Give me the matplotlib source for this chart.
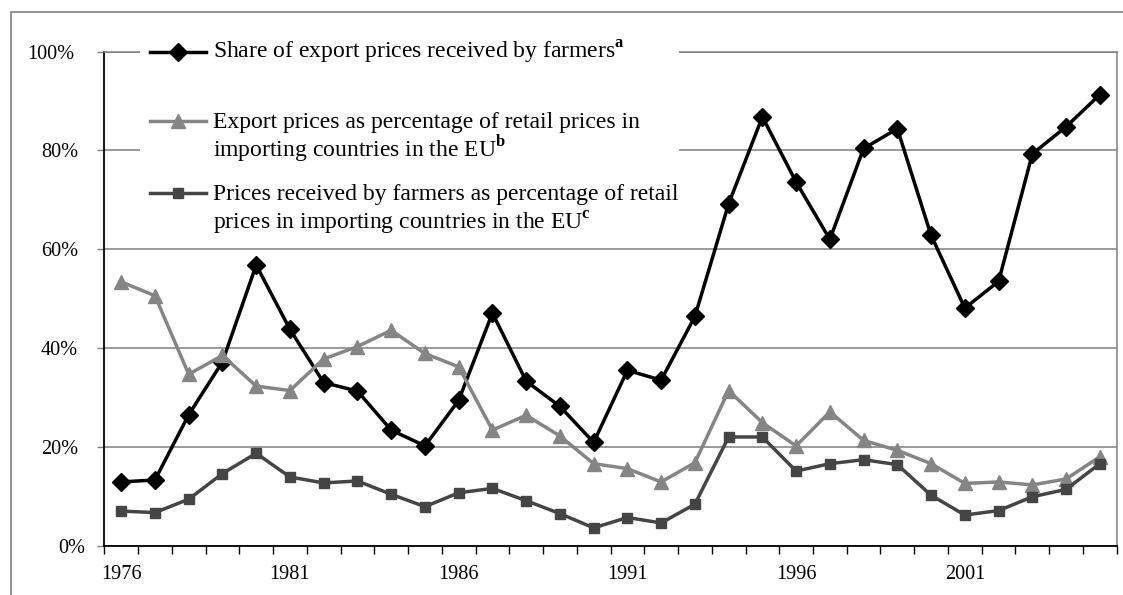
import matplotlib
matplotlib.use("Agg")
import numpy as np
import matplotlib.pyplot as plt
from matplotlib.patches import Rectangle
from matplotlib.lines import Line2D
from matplotlib.transforms import ScaledTranslation

plt.rcParams["font.family"] = ["Liberation Serif", "DejaVu Serif"]
plt.rcParams["mathtext.fontset"] = "custom"
plt.rcParams["mathtext.rm"] = "Liberation Serif"
plt.rcParams["mathtext.bf"] = "Liberation Serif:bold"

# values (percent)
years = list(range(1976, 2006))
share_farmers = [12.9, 13.3, 26.5, 37.2, 56.8, 43.8, 33.0, 31.3, 23.4, 20.2,
                 29.4, 47.1, 33.3, 28.2, 20.9, 35.5, 33.5, 46.4, 69.2, 86.8,
                 73.6, 62.0, 80.4, 84.4, 62.8, 48.1, 53.5, 79.3, 84.8, 91.3]
export_vs_retail = [53.4, 50.6, 34.7, 38.5, 32.3, 31.4, 37.8, 40.3, 43.6, 38.9,
                    36.2, 23.4, 26.4, 22.2, 16.6, 15.6, 12.9, 16.8, 31.4, 24.9,
                    20.2, 27.1, 21.3, 19.3, 16.6, 12.6, 12.9, 12.3, 13.5, 18.0]
farmers_vs_retail = [7.0, 6.7, 9.4, 14.6, 18.7, 13.9, 12.7, 13.1, 10.4, 7.9,
                     10.7, 11.6, 9.1, 6.5, 3.6, 5.7, 4.6, 8.4, 22.0, 22.0,
                     15.1, 16.6, 17.4, 16.4, 10.2, 6.2, 7.1, 9.9, 11.4, 16.6]
label_years = [1976, 1981, 1986, 1991, 1996, 2001]

labels = [
    ["Share of export prices received by farmers$^\\mathbf{a}$"],
    ["Export prices as percentage of retail prices in",
     "importing countries in the EU$^\\mathbf{b}$"],
    ["Prices received by farmers as percentage of retail",
     "prices in importing countries in the EU$^\\mathbf{c}$"],
]

styles = [
    dict(color="black", marker="D", markersize=8.8),
    dict(color="#858585", marker="^", markersize=9.5),
    dict(color="#454545", marker="s", markersize=7.8),
]

fig = plt.figure(figsize=(11.23, 5.95), dpi=100)
ax = fig.add_axes([0.0929, 0.0829, 0.9015, 0.8303])

for vals, st in zip([share_farmers, export_vs_retail, farmers_vs_retail], styles):
    ax.plot(years, vals, lw=2.5, zorder=3, clip_on=False, **st)

ax.set_xlim(years[0] - 0.5, years[-1] + 0.5)
ax.set_ylim(0, 100)
ax.set_yticks(range(0, 101, 20))
ax.set_yticklabels([f"{v}%" for v in range(0, 101, 20)])
ax.set_xticks(label_years)
ax.set_xticklabels([str(y) for y in label_years])
ax.set_xticks(np.arange(years[0] - 0.5, years[-1] + 1, 1), minor=True)

ax.tick_params(axis="x", which="major", length=0, pad=14, labelsize=14.6)
ax.tick_params(axis="x", which="minor", length=6, width=1, color="black")
ax.tick_params(axis="y", length=5, width=1, color="#808080", pad=14, labelsize=14.6)

# the exported chart has slightly uneven y label offsets
yticks = ax.yaxis.get_major_ticks()
for tick, dx in [(yticks[0], 7), (yticks[-1], -4)]:
    lab = tick.label1
    lab.set_transform(lab.get_transform() + ScaledTranslation(dx / 100, 0, fig.dpi_scale_trans))

ax.yaxis.grid(True, color="#808080", lw=1.1)
ax.set_axisbelow(True)
for side in ["left", "bottom"]:
    ax.spines[side].set_color("black")
    ax.spines[side].set_linewidth(1.3)
for side in ["top", "right"]:
    ax.spines[side].set_color("#808080")
    ax.spines[side].set_linewidth(1.1)

# legend: white box over the gridlines, keys aligned with first text line
ax.add_patch(Rectangle((0.0353, 0.62), 0.5324, 0.42, transform=ax.transAxes,
                       fc="white", ec="none", zorder=2.6, clip_on=False))
key_x0, key_x1, key_xm, text_x = 0.0452, 0.1005, 0.0728, 0.1074
baselines = [[59], [128, 157], [200, 229.5]]
for st, lines, bls in zip(styles, labels, baselines):
    ys = [(545.7 - b) / 494.0 for b in bls]
    ykey = ys[0] + 0.015
    ax.add_line(Line2D([key_x0, key_x1], [ykey, ykey], transform=ax.transAxes,
                       color=st["color"], lw=2.5, clip_on=False, zorder=4))
    ax.add_line(Line2D([key_xm], [ykey], transform=ax.transAxes, ls="none",
                       clip_on=False, zorder=4, **st))
    for txt, y in zip(lines, ys):
        ax.text(text_x, y, txt, transform=ax.transAxes, fontsize=17,
                va="baseline", ha="left", zorder=4)

# outer frame of the chart area
fig.add_artist(Rectangle((11 / 1123, -0.05), 2, 1 - 12 / 595 + 0.05,
                         transform=fig.transFigure, fill=False,
                         ec="#808080", lw=1.2))

fig.savefig("out.png", dpi=100)
